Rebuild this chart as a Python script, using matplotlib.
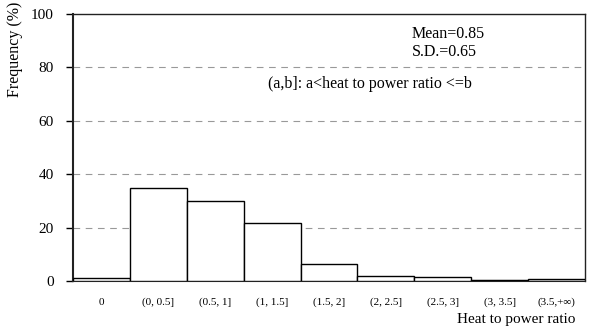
import matplotlib
matplotlib.use("Agg")
import matplotlib.pyplot as plt
import numpy as np

categories = ["0", "(0, 0.5]", "(0.5, 1]", "(1, 1.5]", "(1.5, 2]",
              "(2, 2.5]", "(2.5, 3]", "(3, 3.5]", "(3.5,+\u221e)"]
frequency = [1.1, 34.8, 30.1, 21.7, 6.2, 2.0, 1.4, 0.5, 0.7]
y_ticks = [0, 20, 40, 60, 80, 100]

plt.rcParams["font.family"] = ["Liberation Serif", "DejaVu Serif"]

W, H = 589, 331
fig = plt.figure(figsize=(W / 100, H / 100), dpi=100)
ax = fig.add_axes([73 / W, 1 - 281 / H, (585 - 73) / W, (281 - 14) / H])

x = np.arange(len(categories))
ax.bar(x, frequency, width=1.0, color="white", edgecolor="black",
       linewidth=1.0, zorder=3)

ax.set_xlim(-0.5, len(categories) - 0.5)
ax.set_ylim(0, 100)
ax.set_yticks(y_ticks)
ax.set_yticklabels([str(v) for v in y_ticks], fontsize=11)
ax.set_xticks(x)
ax.set_xticklabels(categories, fontsize=8)
ax.tick_params(axis="x", length=0, pad=12)
ax.tick_params(axis="y", length=5, width=1, direction="out", pad=9)

for v in y_ticks[1:-1]:
    ax.axhline(v, color="#999999", linestyle=(0, (6, 5)), linewidth=0.8, zorder=1)

for s in ax.spines.values():
    s.set_color("#222222")
    s.set_linewidth(1.0)
ax.spines["left"].set_linewidth(1.5)
ax.spines["bottom"].set_linewidth(1.5)

ax.text(412 / W, 1 - 34 / H, "Mean=0.85", transform=fig.transFigure,
        fontsize=11.5, va="center", ha="left")
ax.text(412 / W, 1 - 52 / H, "S.D.=0.65", transform=fig.transFigure,
        fontsize=11.5, va="center", ha="left")
ax.text(268 / W, 1 - 84 / H, "(a,b]: a<heat to power ratio <=b",
        transform=fig.transFigure, fontsize=11.5, va="center", ha="left")

fig.text(15 / W, 1 - 49 / H, "Frequency (%)", rotation=90, fontsize=11.5,
         ha="center", va="center")
fig.text(575 / W, 1 - 320 / H, "Heat to power ratio", fontsize=11,
         ha="right", va="center")

fig.savefig("out.png", dpi=100)
